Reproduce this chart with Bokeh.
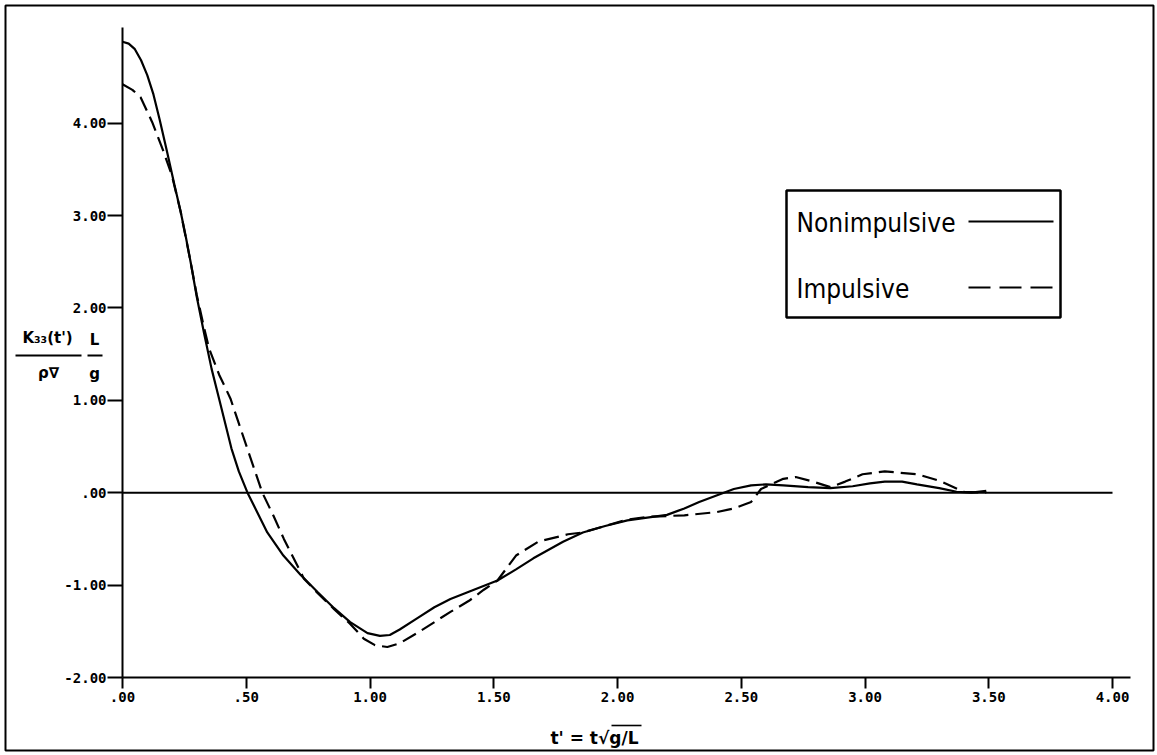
from bokeh.plotting import figure
from bokeh.models import Range1d, FixedTicker, Label, BoxAnnotation, Arrow
from bokeh.embed import file_html
from bokeh.resources import INLINE

# ---- data ----
t_nonimp = [0.00, 0.025, 0.05, 0.075, 0.10, 0.125, 0.15, 0.18, 0.21, 0.235, 0.255, 0.275,
            0.30, 0.33, 0.36, 0.39, 0.44, 0.47, 0.505, 0.585, 0.65, 0.72, 0.79, 0.855,
            0.92, 0.99, 1.04, 1.08, 1.12, 1.19, 1.26, 1.325, 1.42, 1.515, 1.59, 1.66,
            1.78, 1.86, 1.95, 2.04, 2.12, 2.20, 2.27, 2.33, 2.40, 2.47, 2.54, 2.60,
            2.67, 2.77, 2.86, 2.95, 3.02, 3.08, 3.15, 3.21, 3.30, 3.37, 3.43, 3.49]
k_nonimp = [4.88, 4.86, 4.80, 4.68, 4.52, 4.31, 4.04, 3.69, 3.33, 3.04, 2.78, 2.50,
            2.12, 1.72, 1.34, 1.02, 0.48, 0.23, 0.00, -0.43, -0.68, -0.89, -1.08, -1.25,
            -1.40, -1.52, -1.55, -1.54, -1.48, -1.36, -1.24, -1.15, -1.05, -0.95, -0.83, -0.71,
            -0.53, -0.43, -0.36, -0.30, -0.27, -0.24, -0.17, -0.10, -0.03, 0.04, 0.08, 0.09,
            0.08, 0.06, 0.05, 0.07, 0.10, 0.12, 0.12, 0.09, 0.05, 0.01, 0.00, 0.02]

t_imp = [0.00, 0.04, 0.073, 0.12, 0.166, 0.20, 0.235, 0.275, 0.30, 0.33, 0.35, 0.39,
         0.436, 0.47, 0.504, 0.565, 0.61, 0.652, 0.733, 0.79, 0.855, 0.92, 0.975, 1.02,
         1.07, 1.12, 1.19, 1.325, 1.40, 1.46, 1.515, 1.59, 1.68, 1.80, 1.86, 1.95,
         2.04, 2.13, 2.27, 2.40, 2.47, 2.51, 2.54, 2.58, 2.67, 2.72, 2.79, 2.86,
         2.92, 2.99, 3.08, 3.21, 3.30, 3.40, 3.49]
k_imp = [4.42, 4.36, 4.28, 4.01, 3.69, 3.43, 3.04, 2.50, 2.14, 1.78, 1.56, 1.28,
         1.02, 0.75, 0.48, 0.00, -0.25, -0.50, -0.93, -1.09, -1.26, -1.42, -1.58, -1.65,
         -1.67, -1.63, -1.52, -1.29, -1.17, -1.05, -0.95, -0.68, -0.53, -0.45, -0.43, -0.36,
         -0.29, -0.26, -0.245, -0.21, -0.17, -0.13, -0.10, 0.04, 0.15, 0.17, 0.12, 0.06,
         0.12, 0.20, 0.23, 0.20, 0.13, 0.01, 0.00]

x_ticks = [0.0, 0.5, 1.0, 1.5, 2.0, 2.5, 3.0, 3.5, 4.0]
x_tick_labels = [".00", ".50", "1.00", "1.50", "2.00", "2.50", "3.00", "3.50", "4.00"]
y_ticks = [-2.0, -1.0, 0.0, 1.0, 2.0, 3.0, 4.0]
y_tick_labels = ["-2.00", "-1.00", ".00", "1.00", "2.00", "3.00", "4.00"]
legend_labels = ["Nonimpulsive", "Impulsive"]
x_title = "t' = t√g/L"

# ---- layout (pixels); the frame fills the whole canvas ----
W, H = 1157, 755
AX_LEFT, AX_RIGHT, AX_TOP, AX_BOTTOM = 122, 1130, 27, 677
PX_X = 247.5
PX_Y = 92.4
Y0 = y_ticks[0]


def dx(px):
    return (px - AX_LEFT) / PX_X


def dy(py):
    return Y0 + (AX_BOTTOM - py) / PX_Y


p = figure(width=W, height=H, output_backend="svg", toolbar_location=None,
           x_range=Range1d(dx(0), dx(W)), y_range=Range1d(dy(H), dy(0)),
           min_border=0, min_border_left=0, min_border_right=0,
           min_border_top=0, min_border_bottom=0)
p.outline_line_color = None
p.grid.visible = False
p.background_fill_color = "white"
p.border_fill_color = "white"

tick_font = "DejaVu Sans Mono"
for ax in (p.xaxis[0], p.yaxis[0]):
    ax.axis_line_width = 2
    ax.axis_line_color = "black"
    ax.major_tick_line_width = 2
    ax.major_tick_line_color = "black"
    ax.major_tick_in = 0
    ax.minor_tick_line_color = None
    ax.major_label_text_font = tick_font
    ax.major_label_text_font_style = "bold"
    ax.major_label_text_font_size = "14px"
    ax.major_label_text_color = "black"

p.xaxis.fixed_location = Y0
p.xaxis.bounds = (x_ticks[0], dx(AX_RIGHT))
p.xaxis.ticker = FixedTicker(ticks=x_ticks)
p.xaxis.major_label_overrides = dict(zip(x_ticks, x_tick_labels))
p.xaxis.major_tick_out = 11
p.xaxis.major_label_standoff = 3

p.yaxis.fixed_location = x_ticks[0]
p.yaxis.bounds = (Y0, dy(AX_TOP))
p.yaxis.ticker = FixedTicker(ticks=y_ticks)
p.yaxis.major_label_overrides = dict(zip(y_ticks, y_tick_labels))
p.yaxis.major_tick_out = 15
p.yaxis.major_label_standoff = 1

# zero reference line
p.line(x=[x_ticks[0], x_ticks[-1]], y=[0, 0], line_color="black", line_width=2)

# curves
p.line(t_nonimp, k_nonimp, line_color="black", line_width=2.2)
p.line(t_imp, k_imp, line_color="black", line_width=2.2, line_dash="15 7")

# legend box (custom: text left, sample right)
p.add_layout(BoxAnnotation(left=dx(786), right=dx(1060), top=dy(190), bottom=dy(317),
                           fill_color=None, line_color="black", line_alpha=1.0,
                           line_width=2.5))
leg_font = "'DejaVu Sans Condensed', 'Liberation Sans Narrow', sans-serif"
for lab, py, dash in zip(legend_labels, [221, 287], ["solid", "22 9"]):
    p.add_layout(Label(x=dx(796), y=dy(py + 1), text=lab, text_baseline="middle",
                       text_align="left", text_font=leg_font, text_font_size="26px",
                       text_color="black"))
    p.line(x=[dx(968), dx(1053)], y=[dy(py), dy(py)], line_color="black",
           line_width=2.2, line_dash=dash)

# y-axis label as a fraction
lab_font = "DejaVu Sans"


def add_text(px, py, txt, size="14px", align="center"):
    p.add_layout(Label(x=dx(px), y=dy(py), text=txt, text_align=align,
                       text_baseline="middle", text_font=lab_font,
                       text_font_style="bold", text_font_size=size,
                       text_color="black"))


def add_rule(px0, px1, py, width=2):
    p.add_layout(Arrow(x_start=dx(px0), y_start=dy(py), x_end=dx(px1), y_end=dy(py),
                       end=None, line_width=width, line_color="black"))


add_text(47, 337, "K₃₃(t')", "15px")
add_rule(15, 81, 355)
add_text(48, 372, "ρ∇", "15px")
add_text(94, 339, "L", "15px")
add_rule(87, 102, 355)
add_text(94, 373, "g", "15px")

# x-axis title with the radical's overline
add_text(594, 737, x_title, "17px")
add_rule(611, 641, 725, 1.6)

# outer frame of the figure
p.add_layout(BoxAnnotation(left=dx(5), right=dx(1153), top=dy(5), bottom=dy(750),
                           fill_color=None, line_color="black", line_alpha=1.0,
                           line_width=2))

open("out.html", "w").write(file_html(p, INLINE))
